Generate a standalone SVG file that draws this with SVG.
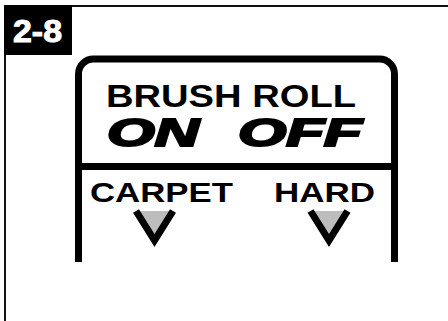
<svg xmlns="http://www.w3.org/2000/svg" width="448" height="321" viewBox="0 0 448 321">
<style>
.lbl{font-family:"Liberation Sans",Arial,sans-serif;font-weight:bold;fill:#000}
.big{font-family:"Liberation Sans",Arial,sans-serif;font-weight:bold;font-style:italic;fill:#000;stroke:#000;stroke-width:2.2}
.panel{fill:none;stroke:#000;stroke-width:7}
.vee{fill:none;stroke:#000;stroke-width:7;stroke-linejoin:miter}
.veefill{fill:#bdbdbd}
</style>
<rect width="448" height="321" fill="#fff"/>
<g id="frame">
  <path d="M5,321 V6 H448" fill="none" stroke="#111" stroke-width="2"/>
</g>
<g id="badge">
  <rect x="4" y="5" width="68" height="50" fill="#000"/>
  <text x="13" y="42" class="lbl" style="fill:#fff;stroke:#fff;stroke-width:1" font-size="32" textLength="49" lengthAdjust="spacingAndGlyphs">2-8</text>
</g>
<g id="panel">
  <path class="panel" d="M78.5,262 V74 A15,15 0 0 1 93.5,59 H379.5 A15,15 0 0 1 394.5,74 V262"/>
  <line class="panel" x1="78.5" y1="166.5" x2="394.5" y2="166.5"/>
</g>
<g id="title">
  <text x="106" y="107" class="lbl" font-size="31" textLength="250" lengthAdjust="spacingAndGlyphs">BRUSH ROLL</text>
</g>
<g id="on">
  <text x="107" y="146" class="big" font-size="39" textLength="92" lengthAdjust="spacingAndGlyphs">ON</text>
</g>
<g id="off">
  <text x="238" y="146" class="big" font-size="39" textLength="124" lengthAdjust="spacingAndGlyphs">OFF</text>
</g>
<g id="carpet">
  <text x="90" y="202" class="lbl" font-size="28" textLength="143" lengthAdjust="spacingAndGlyphs">CARPET</text>
  <polygon class="veefill" points="137,211 172,211 154.5,238"/>
  <polyline class="vee" points="136,211 154.5,240.5 173,211"/>
</g>
<g id="hard">
  <text x="274" y="202" class="lbl" font-size="28" textLength="101" lengthAdjust="spacingAndGlyphs">HARD</text>
  <polygon class="veefill" points="311.5,211 346.5,211 329,238"/>
  <polyline class="vee" points="310.5,211 329,240.5 347.5,211"/>
</g>
<g id="connectors"></g>
</svg>
